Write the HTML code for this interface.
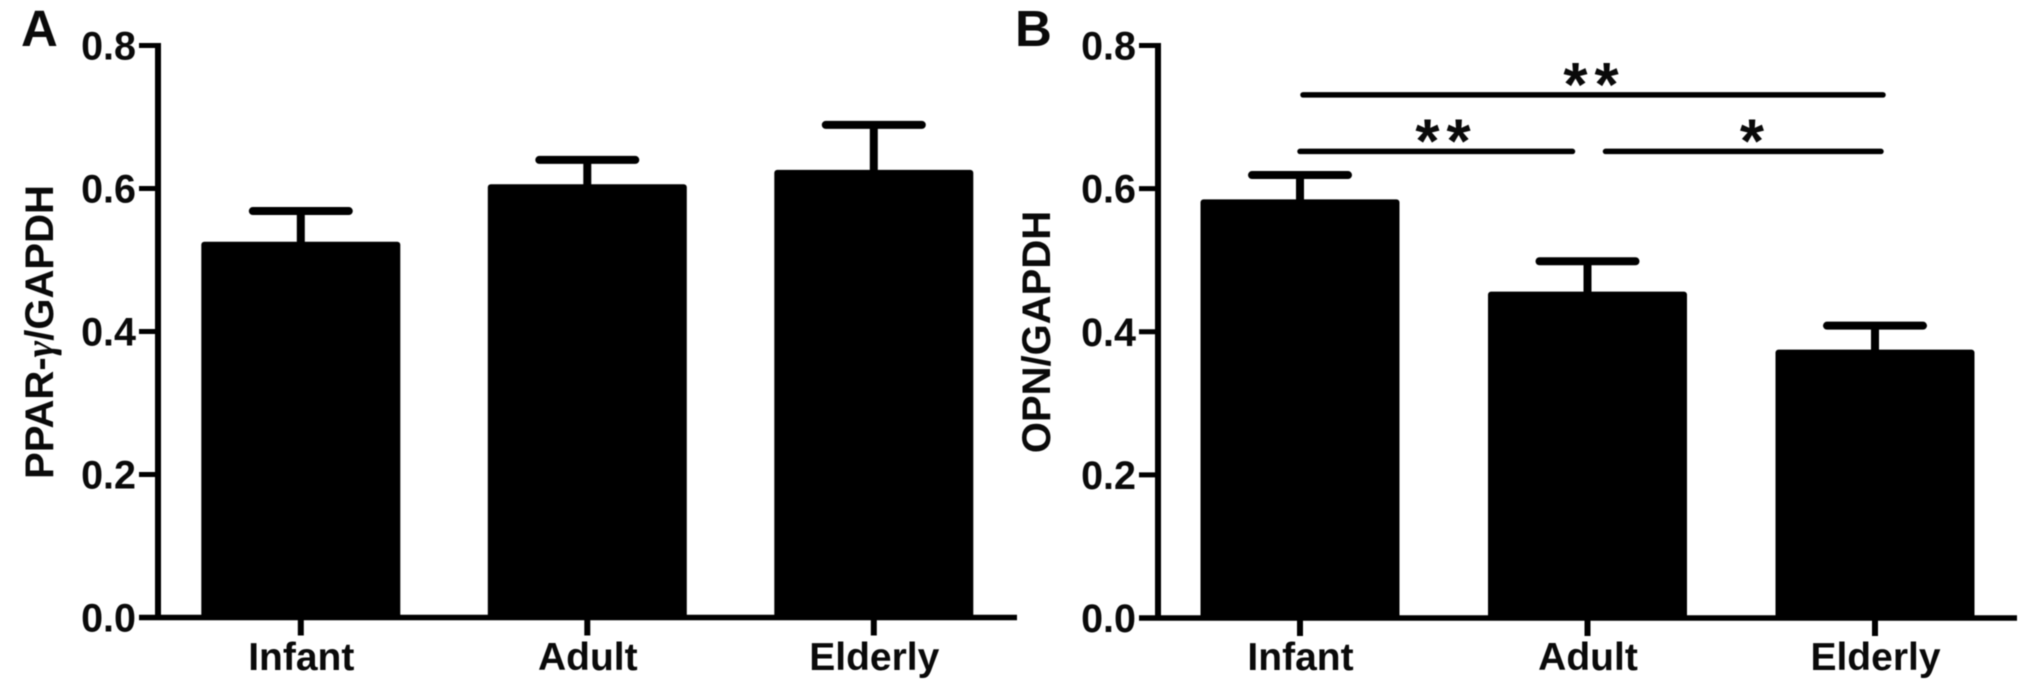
<!DOCTYPE html>
<html lang="en">
<head>
<meta charset="utf-8">
<title>PPAR-γ and OPN expression by age group</title>
<style>
html,body{margin:0;padding:0;background:#fff;width:2036px;height:692px;overflow:hidden}
svg{display:block;filter:blur(0.6px)}
text{font-family:"Liberation Sans",sans-serif;font-weight:bold;fill:#0a0a0a}
</style>
</head>
<body>
<svg id="figure" xmlns="http://www.w3.org/2000/svg" width="2036" height="692" viewBox="0 0 2036 692"></svg>
<script>
const categories = ['Infant', 'Adult', 'Elderly'];
const yTicks = [0, 0.2, 0.4, 0.6, 0.8];
const tickLabels = ['0.0', '0.2', '0.4', '0.6', '0.8'];
const pparMeans = [0.5256, 0.606, 0.626];
const pparErrorTops = [0.5685, 0.640, 0.689];
const opnMeans = [0.585, 0.456, 0.375];
const opnErrorTops = [0.619, 0.4985, 0.4085];
const sigLevels = [0.731, 0.652, 0.652];
const sigLabels = ['**', '**', '*'];

const NS = 'http://www.w3.org/2000/svg';
const figure = document.getElementById('figure');

function make(parent, tag, attrs, text) {
  const node = document.createElementNS(NS, tag);
  for (const k in attrs) node.setAttribute(k, attrs[k]);
  if (text !== undefined) node.textContent = text;
  parent.appendChild(node);
  return node;
}

function drawPanel(p) {
  const x = i => p.firstX + p.step * i;
  const y = v => p.baseY - (v / 0.8) * p.plotH;

  const g = make(figure, 'g', {});
  
  

  const letter = make(g, 'text', {x: p.letterX, y: 46, 'font-size': 51}, p.key.toUpperCase());
  
  

  const title = make(g, 'text', {
    transform: 'translate(' + p.titleX + ' ' + p.titleY + ') rotate(-90)',
    'text-anchor': 'middle', 'font-size': 40
  });
  
  
  p.title.forEach(part => {
    const attrs = part.greek ? {style: 'font-family:"Liberation Serif",serif;font-style:italic'} : {};
    make(title, 'tspan', attrs, part.text);
  });

  p.means.forEach((m, i) => {
    const stem = make(g, 'line', {x1: x(i), x2: x(i), y1: y(p.tops[i]), y2: y(m) + 2, stroke: '#000', 'stroke-width': 8});
    
    

    const cap = make(g, 'line', {x1: x(i) - 48, x2: x(i) + 48, y1: y(p.tops[i]), y2: y(p.tops[i]), stroke: '#000', 'stroke-width': 8, 'stroke-linecap': 'round'});
    
    

    const bar = make(g, 'rect', {x: x(i) - 99.5, y: y(m), width: 199, height: y(0) - y(m) + 2, rx: 3, fill: '#000'});
    
    

    const tick = make(g, 'line', {x1: x(i), x2: x(i), y1: p.baseY, y2: p.baseY + 18, stroke: '#000', 'stroke-width': 6});
    
    

    const label = make(g, 'text', {x: x(i) + 0.5, y: 670, 'text-anchor': 'middle', 'font-size': 39}, categories[i]);
    
    
  });

  const yAxis = make(g, 'line', {x1: p.axisX, x2: p.axisX, y1: p.baseY - p.plotH - 2.5, y2: p.baseY + 2.5, stroke: '#000', 'stroke-width': 6});
  
  

  const xAxis = make(g, 'line', {x1: p.axisX - 19, x2: p.axisEnd, y1: p.baseY, y2: p.baseY, stroke: '#000', 'stroke-width': 5.5});
  
  

  yTicks.forEach((v, i) => {
    const tick = make(g, 'line', {x1: p.axisX - 19, x2: p.axisX, y1: y(v), y2: y(v), stroke: '#000', 'stroke-width': 5});
    
    

    const label = make(g, 'text', {x: p.axisX - 22, y: y(v) + 14, 'text-anchor': 'end', 'font-size': 39.5}, tickLabels[i]);
    
    
  });

  if (p.key === 'b') {
    const spans = [[0, 3, 2, 8, 7], [0, 0, 1, -15, -141], [1, 18, 2, 6, 168]];
    spans.forEach((s, i) => {
      const line = make(g, 'line', {x1: x(s[0]) + s[1], x2: x(s[2]) + s[3], y1: y(sigLevels[i]), y2: y(sigLevels[i]), stroke: '#000', 'stroke-width': 5.5, 'stroke-linecap': 'round'});
      
      

      const star = make(g, 'text', {x: x(1) + s[4], y: y(sigLevels[i]) + 11, 'text-anchor': 'middle', 'font-size': 62, 'letter-spacing': 7}, sigLabels[i]);
      
      
    });
  }
}

drawPanel({key: 'a', axisX: 158, axisEnd: 1017, firstX: 300.8, baseY: 617.5, plotH: 572, step: 286.5, letterX: 21, titleX: 53, titleY: 332,
  title: [{text: 'PPAR-'}, {text: 'γ', greek: true}, {text: '/GAPDH'}], means: pparMeans, tops: pparErrorTops});
drawPanel({key: 'b', axisX: 1158, axisEnd: 2017, firstX: 1300, baseY: 618, plotH: 572.5, step: 287.5, letterX: 1015, titleX: 1050, titleY: 332,
  title: [{text: 'OPN/GAPDH'}], means: opnMeans, tops: opnErrorTops});
</script>
</body>
</html>
